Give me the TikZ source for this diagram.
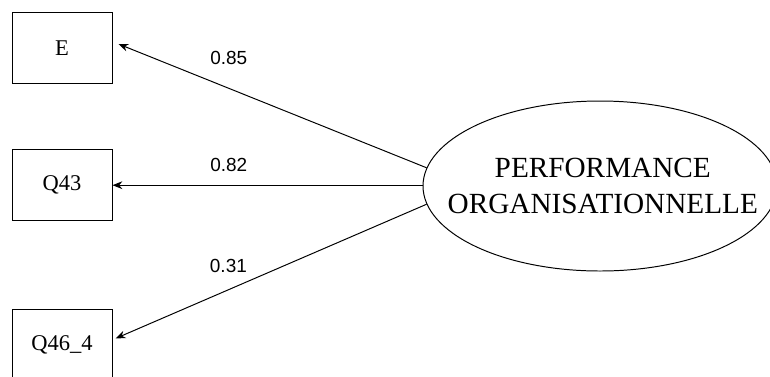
\documentclass[tikz,border=0pt]{standalone}
\usepackage{fontspec}
\setmainfont{Liberation Serif}
\newfontfamily\labelfont{Liberation Sans}
\usetikzlibrary{arrows.meta, shapes.geometric}

\begin{document}
\begin{tikzpicture}[
    box/.style={draw, line width=0.7pt, minimum width=2.5cm, minimum height=1.77cm,
                font=\fontsize{16}{19}\selectfont},
    latent/.style={draw, ellipse, line width=0.7pt, minimum width=8.85cm,
                   minimum height=4.25cm, inner sep=0pt},
    load/.style={line width=0.7pt, -{Stealth[length=7pt, width=5.5pt]}},
    coef/.style={font=\labelfont\fontsize{13.5}{16}\selectfont}]
    % Diagram: one latent factor with three loadings.
    % Coordinates: (x, y), origin at top left
    %   page 19.25cm x 9.4cm (ellipse and lowest box run off the edge)
    %   boxes at x=1.55, y=-1.2 / -4.63 / -8.63
    %   ellipse at (15,-4.65), 8.85cm x 4.25cm
    \clip (0,0) rectangle (19.25,-9.4);
    \node[box] (E) at (1.55,-1.2) {E};
    \node[box] (Q43) at (1.55,-4.63) {Q43};
    \node[box] (Q46) at (1.55,-8.63) {Q46\_4};
    \node[latent] (perf) at (15,-4.65) {};
    \node[align=center, font=\fontsize{20.8}{25}\selectfont] (perfname)
          at ([xshift=0.07cm]perf.center) {PERFORMANCE\\ORGANISATIONNELLE};
    \draw[load] (perf.174) -- ([shift={(0.15,0.1)}]E.east);
    \draw[load] (perf.west |- Q43.east) -- (Q43.east);
    \draw[load] (perf.186) -- ([shift={(0.08,0.17)}]Q46.east);
    \node[coef] (c85) at (5.72,-1.46) {0.85};
    \node[coef] (c82) at (5.72,-4.13) {0.82};
    \node[coef] (c31) at (5.71,-6.66) {0.31};
  \end{tikzpicture}
\end{document}
